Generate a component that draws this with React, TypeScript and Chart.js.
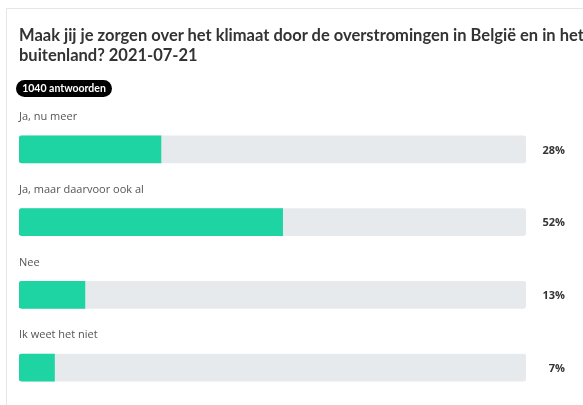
import React, { useEffect, useRef } from "react";
import { Chart, registerables } from "chart.js";

Chart.register(...registerables);

const titleLine1 = "Maak jij je zorgen over het klimaat door de overstromingen in België en in het";
const titleLine2 = "buitenland? 2021-07-21";
const badge = "1040 antwoorden";
const categories = ["Ja, nu meer", "Ja, maar daarvoor ook al", "Nee", "Ik weet het niet"];
const values = [28, 52, 13, 7];
const track = [100, 100, 100, 100];

const labelsPlugin = {
  id: "pollLabels",
  afterDatasetsDraw(chart: any) {
    const { ctx, chartArea, scales } = chart;
    const y = scales.y;
    ctx.save();
    categories.forEach((c, i) => {
      const cy = y.getPixelForValue(i);
      ctx.font = "11px 'Open Sans'";
      ctx.fillStyle = "#555";
      ctx.textAlign = "left";
      ctx.textBaseline = "middle";
      ctx.fillText(c, chartArea.left, cy - 32.5);
      ctx.font = "bold 11px 'Open Sans'";
      ctx.fillStyle = "#333";
      ctx.textAlign = "right";
      ctx.fillText(values[i] + "%", chartArea.right + 39, cy + 1);
    });
    ctx.restore();
  },
};

export default function App() {
  const ref = useRef<HTMLCanvasElement>(null);
  useEffect(() => {
    const chart = new Chart(ref.current!, {
      type: "bar",
      data: {
        labels: categories,
        datasets: [
          {
            data: values,
            backgroundColor: "#1fd4a3",
            borderRadius: 3,
            borderSkipped: "end",
            barThickness: 27,
            grouped: false,
            order: 0,
          } as any,
          {
            data: track,
            backgroundColor: "#e7eaed",
            borderRadius: 3,
            borderSkipped: false,
            barThickness: 27,
            grouped: false,
            order: 1,
          } as any,
        ],
      },
      options: {
        indexAxis: "y",
        animation: false,
        responsive: false,
        maintainAspectRatio: false,
        layout: { padding: { left: 19, right: 57, top: 113, bottom: 1 } },
        plugins: { legend: { display: false }, tooltip: { enabled: false }, title: { display: false } },
        scales: {
          x: { display: false, min: 0, max: 100 },
          y: { display: false },
        },
      },
      plugins: [labelsPlugin],
    });
    return () => chart.destroy();
  }, []);

  return (
    <div style={{ position: "fixed", left: 0, top: 0, width: 583, height: 405, overflow: "hidden", background: "#fff" }}>
      <div style={{ position: "absolute", left: 6, top: 8, width: 700, height: 500, border: "1px solid #e6e6e6", boxSizing: "border-box" }} />
      <canvas ref={ref} width={583} height={405} style={{ position: "absolute", left: 0, top: 0, width: 583, height: 405 }} />
      <div style={{ position: "absolute", left: 19, top: 25, width: 700, font: "bold 16.5px Lato", lineHeight: "20px", color: "#333", whiteSpace: "nowrap" }}>
        <div>{titleLine1}</div>
        <div>{titleLine2}</div>
      </div>
      <div style={{ position: "absolute", left: 16, top: 80, width: 96, height: 17, borderRadius: 9, background: "#000", color: "#fff", font: "bold 10.5px Lato", lineHeight: "17px", textAlign: "center" }}>
        {badge}
      </div>
    </div>
  );
}
